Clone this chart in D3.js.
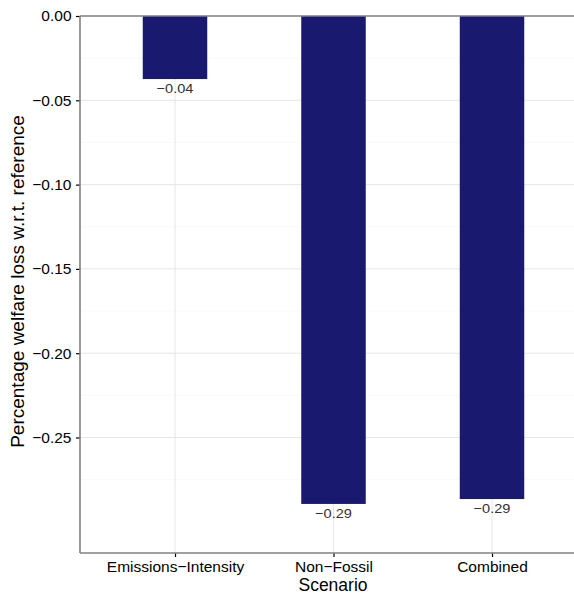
<!DOCTYPE html>
<html><head><meta charset="utf-8">
<script src="https://cdn.jsdelivr.net/npm/d3@7"></script>
<style>body{margin:0;background:#fff}svg{display:block;font-family:"Liberation Sans",Arial,sans-serif}</style>
</head><body><svg id="c" width="574" height="595"></svg>
<script>
const categories = ["Emissions\u2212Intensity", "Non\u2212Fossil", "Combined"];
const values = [-0.0374, -0.2894, -0.2865];
const labels = ["\u22120.04", "\u22120.29", "\u22120.29"];
const yTicks = [0, -0.05, -0.10, -0.15, -0.20, -0.25];
const yTickLabels = ["0.00", "\u22120.05", "\u22120.10", "\u22120.15", "\u22120.20", "\u22120.25"];
const yMinor = [-0.025, -0.075, -0.125, -0.175, -0.225, -0.275];

const svg = d3.select("#c");
const L = 80, T = 16, B = 553;
const y = d3.scaleLinear().domain([0, -0.3185]).range([T, B]);
const step = 158.5;
const x = d3.scalePoint().domain(categories).range([175, 175 + 2 * step]);
const R = 175 + 2.6 * step;
const bw = 64.5;
const FF = "Liberation Sans, Arial, sans-serif";

// gridlines
svg.append("g").selectAll("line").data(yMinor).join("line")
  .attr("x1", L).attr("x2", R).attr("y1", d => y(d)).attr("y2", d => y(d))
  .attr("stroke", "#f5f5f5").attr("stroke-width", 0.6);
svg.append("g").selectAll("line").data(yTicks.slice(1)).join("line")
  .attr("x1", L).attr("x2", R).attr("y1", d => y(d)).attr("y2", d => y(d))
  .attr("stroke", "#e6e6e6").attr("stroke-width", 1);
svg.append("g").selectAll("line").data(categories).join("line")
  .attr("x1", d => x(d)).attr("x2", d => x(d)).attr("y1", T).attr("y2", B)
  .attr("stroke", "#e6e6e6").attr("stroke-width", 1);

// bars
svg.append("g").selectAll("rect").data(categories).join("rect")
  .attr("x", d => x(d) - bw / 2).attr("width", bw)
  .attr("y", y(0)).attr("height", (d, i) => y(values[i]) - y(0))
  .attr("fill", "#191970");

// labels
svg.append("g").selectAll("text").data(categories).join("text")
  .attr("transform", (d, i) => `translate(${x(d)},${y(values[i]) + 14}) scale(1.12,1)`)
  .attr("text-anchor", "middle").attr("font-size", 13).attr("fill", "#333")
  .text((d, i) => labels[i]);

// zero line
svg.append("line").attr("x1", L).attr("x2", R).attr("y1", y(0)).attr("y2", y(0))
  .attr("stroke", "#808080").attr("stroke-width", 1.6);

// y axis
const yAxis = d3.axisLeft(y).tickValues(yTicks).tickSize(4).tickFormat((d, i) => yTickLabels[i]);
const gy = svg.append("g").attr("transform", `translate(${L},0)`).call(yAxis);
gy.select(".domain").remove();
gy.selectAll(".tick line").attr("stroke", "#000").attr("stroke-width", 1.2);
gy.selectAll(".tick text").attr("font-size", 15.5).attr("fill", "#000").attr("x", -8.5)
  .attr("font-family", FF);
svg.append("line").attr("x1", L).attr("x2", L).attr("y1", T).attr("y2", B)
  .attr("stroke", "#808080").attr("stroke-width", 1.6);

// x axis
const xAxis = d3.axisBottom(x).tickSize(4);
const gx = svg.append("g").attr("transform", `translate(0,${B})`).call(xAxis);
gx.select(".domain").remove();
gx.selectAll(".tick line").attr("stroke", "#000").attr("stroke-width", 1.2);
gx.selectAll(".tick text").attr("font-size", 15.5).attr("fill", "#000").attr("y", 18.5).attr("dy", 0)
  .attr("font-family", FF);
svg.append("line").attr("x1", L).attr("x2", R).attr("y1", B).attr("y2", B)
  .attr("stroke", "#808080").attr("stroke-width", 1.6);

// titles
svg.append("text").attr("x", 333).attr("y", 590.5).attr("text-anchor", "middle")
  .attr("font-size", 17.5).attr("fill", "#000").text("Scenario");
svg.append("text").attr("transform", `translate(24,${(T + B) / 2 - 3}) rotate(-90)`)
  .attr("text-anchor", "middle").attr("font-size", 19).attr("fill", "#000")
  .text("Percentage welfare loss w.r.t. reference");
</script></body></html>
